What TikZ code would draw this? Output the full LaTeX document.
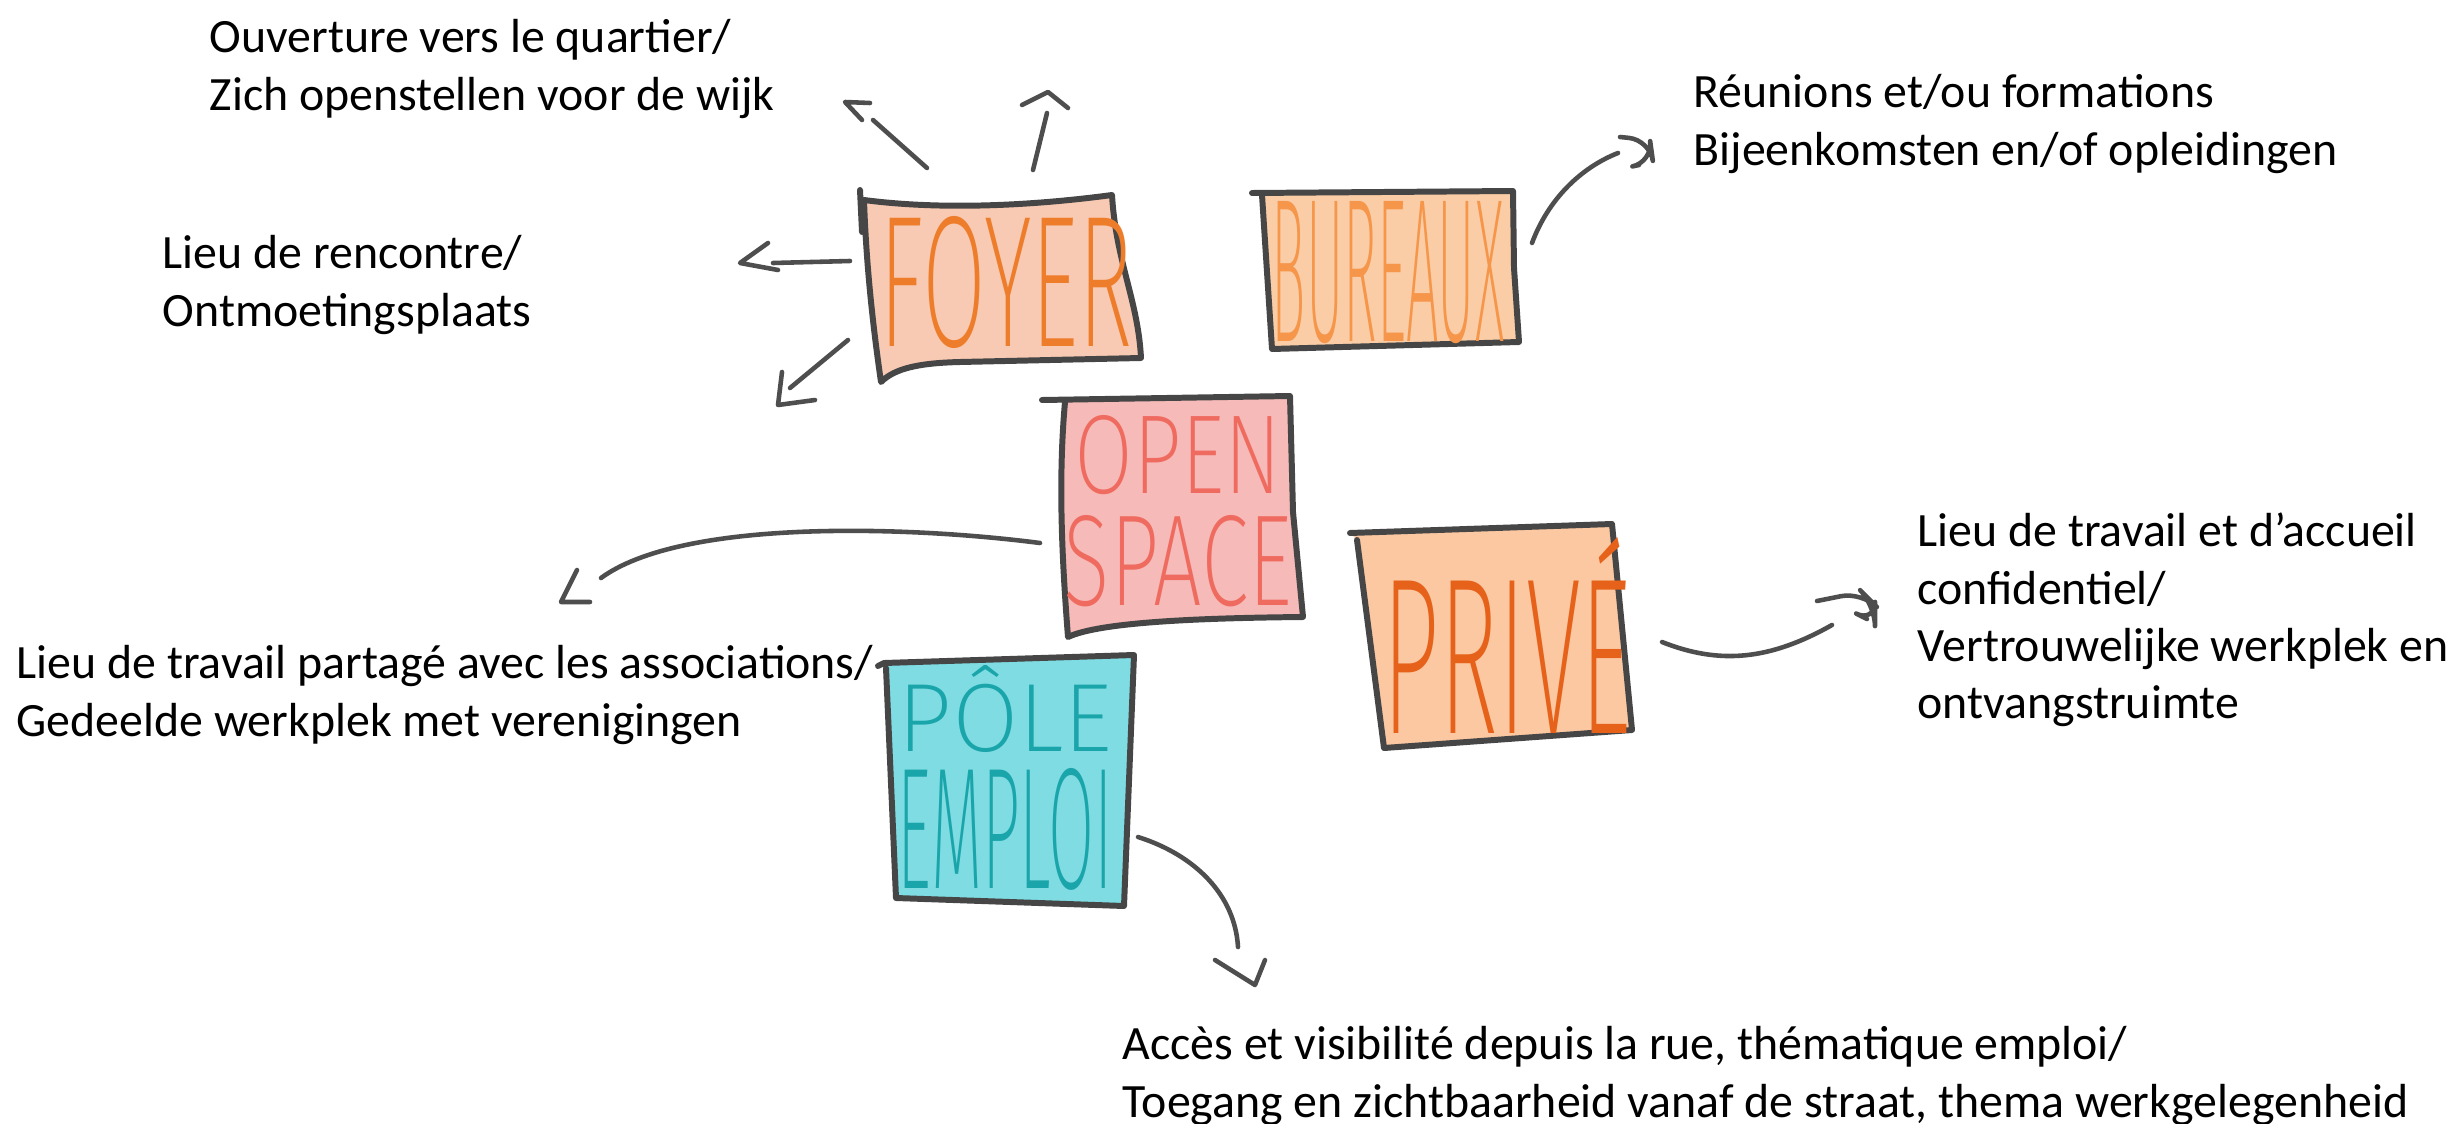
\documentclass[tikz,border=0pt]{standalone}
\usepackage{fontspec}
\usepackage{graphicx}
\setmainfont{Carlito}
\IfFontExistsTF{Fira Sans ExtraLight}{\newfontfamily\handfont{Fira Sans ExtraLight}}{\newfontfamily\handfont{Fira Sans Thin}}
\usepackage{tikz}
\definecolor{ink}{HTML}{464646}
\definecolor{wire}{HTML}{4E4E4E}
\definecolor{foyerfill}{HTML}{F8CAB3}
\definecolor{foyertxt}{HTML}{EE7D2B}
\definecolor{burfill}{HTML}{FBCDA6}
\definecolor{burtxt}{HTML}{F5964A}
\definecolor{openfill}{HTML}{F6BAB8}
\definecolor{opentxt}{HTML}{EF6B60}
\definecolor{privefill}{HTML}{FBC8A2}
\definecolor{privetxt}{HTML}{E6621A}
\definecolor{polefill}{HTML}{7EDCE2}
\definecolor{poletxt}{HTML}{1AA5AA}
\newcommand{\strt}{\rule{0pt}{12pt}}

\begin{document}
\begin{tikzpicture}[x=0.01cm, y=-0.01cm,
  box/.style={draw=ink, line width=1.7pt, line join=round, line cap=round},
  conn/.style={draw=wire, line width=1.3pt, line join=round, line cap=round},
  lbl/.style={anchor=north west, inner sep=0pt, align=left, font=\fontsize{13.6}{16.3}\selectfont},
  hand/.style={inner sep=0pt, align=center, font=\handfont}]
\useasboundingbox (0,0) rectangle (2460,1124);

\filldraw[box, fill=foyerfill] (864,200) .. controls (940,210) and (1030,206) .. (1112,195)
  .. controls (1116,262) and (1138,300) .. (1141,358) -- (960,362)
  .. controls (920,363) and (895,368) .. (881,382)
  .. controls (872,320) and (866,260) .. (864,200);
\draw[box] (860,190) -- (862,232);
\filldraw[box, fill=burfill] (1252,193) -- (1513,191) -- (1514,268) -- (1519,342) -- (1272,349) -- (1262,195);
\filldraw[box, fill=openfill] (1042,400) -- (1290,396) -- (1293,512) -- (1303,617)
  .. controls (1200,618) and (1100,622) .. (1068,637)
  .. controls (1062,560) and (1058,480) .. (1065,402);
\filldraw[box, fill=privefill] (1350,533) -- (1612,524) -- (1632,730) -- (1384,748) -- (1357,540);
\filldraw[box, fill=polefill] (878,666) -- (884,663) -- (1134,655) -- (1124,906) -- (896,898) -- (886,668);

\node[hand, text=foyertxt] (foyer) at (1006,282) {\resizebox{2.52cm}{1.30cm}{FOYER}};
\node[hand, text=burtxt] (bureaux) at (1388,273) {\resizebox{2.32cm}{1.40cm}{BUREAUX}};
\node[hand, text=opentxt] (openspace) at (1178,511)
  {\resizebox{2.07cm}{0.78cm}{OPEN}\\[5pt]\resizebox{2.28cm}{0.90cm}{SPACE}};
\node[hand, text=privetxt] (prive) at (1507,635) {\resizebox{2.49cm}{1.96cm}{PRIVÉ}};
\node[hand, text=poletxt] (poleemploi) at (1005,778)
  {\resizebox{2.15cm}{0.86cm}{PÔLE}\\[3.5pt]\resizebox{2.15cm}{1.20cm}{EMPLOI}};

\node[lbl] (quartier) at (209,10) {\strt Ouverture vers le quartier/\\Zich openstellen voor de wijk};
\node[lbl] (reunions) at (1693,65) {\strt Réunions et/ou formations\\Bijeenkomsten en/of opleidingen};
\node[lbl] (rencontre) at (162,226) {\strt Lieu de rencontre/\\Ontmoetingsplaats};
\node[lbl] (confid) at (1917,504) {\strt Lieu de travail et d’accueil\\confidentiel/\\Vertrouwelijke werkplek en\\ontvangstruimte};
\node[lbl] (partage) at (16,636) {\strt Lieu de travail partagé avec les associations/\\Gedeelde werkplek met verenigingen};
\node[lbl] (acces) at (1122,1017) {\strt Accès et visibilité depuis la rue, thématique emploi/\\Toegang en zichtbaarheid vanaf de straat, thema werkgelegenheid};

\coordinate (fyN) at (927,168);   \coordinate (fyNe) at (873,120);
\coordinate (fyU) at (1033,170);  \coordinate (fyUe) at (1047,113);
\coordinate (fyW) at (850,261);   \coordinate (fyWe) at (773,263);
\coordinate (fyS) at (848,340);   \coordinate (fySe) at (790,388);
\coordinate (buE) at (1532,243);  \coordinate (buEe) at (1618,153);
\coordinate (osW) at (1040,543);  \coordinate (osWe) at (601,578);
\coordinate (prE) at (1662,642);  \coordinate (prEe) at (1832,625);
\coordinate (peS) at (1138,837);  \coordinate (peSe) at (1238,947);

\draw[conn] (fyN) -- (fyNe);
\draw[conn] (fyNe) ++(-3,-17) -- ++(-25,-1) -- ++(17,18);
\draw[conn] (fyU) -- (fyUe);
\draw[conn] (fyUe) ++(-25,-8) -- ++(26,-13) -- ++(20,16);
\draw[conn] (fyW) -- (fyWe);
\draw[conn] (fyWe) ++(-5,-20) -- ++(-28,20) -- ++(38,7);
\draw[conn] (fyS) -- (fySe);
\draw[conn] (fySe) ++(-8,-16) -- ++(-4,33) -- ++(37,-5);

\draw[conn] (buE) .. controls (1548,200) and (1580,168) .. (buEe);
\draw[conn, rounded corners=6pt] (buEe) ++(2,-16) -- ++(30,3) -- ++(3,22) -- ++(-14,3);
\draw[conn] (osW) .. controls (900,525) and (680,520) .. (osWe);
\draw[conn] (osWe) ++(-24,-8) -- ++(-16,32) -- ++(29,0);
\draw[conn] (prE) .. controls (1720,665) and (1770,660) .. (prEe);
\draw[conn, rounded corners=6pt] (prEe) ++(-15,-24) -- ++(45,-9) -- ++(13,13) -- ++(0,18) -- ++(-8,-4);
\draw[conn] (peS) .. controls (1195,855) and (1235,895) .. (peSe);
\draw[conn] (peSe) ++(-23,13) -- ++(40,25) -- ++(10,-25);
\end{tikzpicture}
\end{document}
